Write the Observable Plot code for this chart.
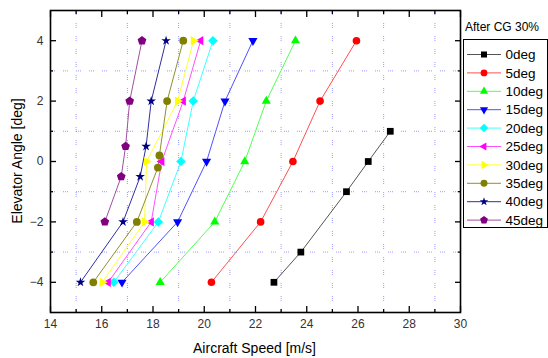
<!DOCTYPE html>
<html>
<head>
<meta charset="utf-8">
<script src="https://cdn.jsdelivr.net/npm/d3@7"></script>
<script src="https://cdn.jsdelivr.net/npm/@observablehq/plot@0.6"></script>
<style>
  html, body { margin: 0; padding: 0; background: #fff; }
  #chart { width: 548px; height: 358px; }
  svg { font-family: "Liberation Sans", Arial, sans-serif; }
</style>
</head>
<body>
<div id="chart"></div>
<script>
// ---- data ----
const seriesNames = ["0deg", "5deg", "10deg", "15deg", "20deg", "25deg", "30deg", "35deg", "40deg", "45deg"];
const speed0 = [22.72, 23.77, 25.55, 26.40, 27.26];
const angle0 = [-4, -3, -1, 0, 1];
const speed5 = [20.28, 22.20, 23.46, 24.52, 25.94];
const angle5 = [-4, -2, 0, 2, 4];
const speed10 = [18.28, 20.41, 21.58, 22.42, 23.56];
const angle10 = [-4, -2, 0, 2, 4];
const speed15 = [16.79, 18.96, 20.09, 20.81, 21.90];
const angle15 = [-4, -2, 0, 2, 4];
const speed20 = [16.47, 18.21, 19.09, 19.57, 20.34];
const angle20 = [-4, -2, 0, 2, 4];
const speed25 = [16.25, 17.93, 18.34, 19.18, 19.86];
const angle25 = [-4, -2, 0, 2, 4];
const speed30 = [16.02, 17.67, 17.75, 18.96, 19.58];
const angle30 = [-4, -2, 0, 2, 4];
const speed35 = [15.67, 17.37, 18.19, 18.25, 18.55, 19.18];
const angle35 = [-4, -2, -0.2, 0.2, 2, 4];
const speed40 = [15.17, 16.83, 17.50, 17.73, 17.93, 18.51];
const angle40 = [-4, -2, -0.5, 0.5, 2, 4];
const speed45 = [16.12, 16.76, 16.93, 17.09, 17.57];
const angle45 = [-2, -0.5, 0.5, 2, 4];
const xTicks = [14, 16, 18, 20, 22, 24, 26, 28, 30];
const yTicks = [-4, -2, 0, 2, 4];
const xMinor = [15, 17, 19, 21, 23, 25, 27, 29];
const yMinor = [-3, -1, 1, 3];
const legendTitle = "After CG 30%";

// ---- styles ----
const colors = ["#000000", "#ff0000", "#00ff00", "#0000ff", "#00ffff", "#ff00ff", "#ffff00", "#808000", "#000080", "#800080"];
const lineColors = ["#555555", "#ff5050", "#50ff50", "#5050ff", "#40ffff", "#ff50ff", "#ffff30", "#90902a", "#3030a0", "#a050a0"];

function triangle(angleDeg) {
  return {
    draw(ctx, size) {
      const side = Math.sqrt(size * 4 / Math.sqrt(3));
      const R = side / Math.sqrt(3);
      for (let k = 0; k < 3; k++) {
        const a = (angleDeg + k * 120) * Math.PI / 180;
        const px = R * Math.cos(a), py = R * Math.sin(a);
        if (k === 0) ctx.moveTo(px, py); else ctx.lineTo(px, py);
      }
      ctx.closePath();
    }
  };
}
const pentagon = {
  draw(ctx, size) {
    const R = Math.sqrt(size / 2.3776);
    for (let k = 0; k < 5; k++) {
      const a = (-90 + k * 72) * Math.PI / 180;
      const px = R * Math.cos(a), py = R * Math.sin(a);
      if (k === 0) ctx.moveTo(px, py); else ctx.lineTo(px, py);
    }
    ctx.closePath();
  }
};
const symbols = [d3.symbolSquare, d3.symbolCircle, triangle(-90), triangle(90), d3.symbolDiamond2,
                 triangle(180), triangle(0), d3.symbolCircle, d3.symbolStar, pentagon];
const radii = [3.8, 3.8, 3.4, 3.4, 4.3, 3.4, 3.4, 3.9, 3.0, 4.0];

const speeds = [speed0, speed5, speed10, speed15, speed20, speed25, speed30, speed35, speed40, speed45];
const angles = [angle0, angle5, angle10, angle15, angle20, angle25, angle30, angle35, angle40, angle45];
const rows = [];
seriesNames.forEach((name, i) => {
  speeds[i].forEach((s, j) => rows.push({series: name, idx: i, speed: s, angle: angles[i][j]}));
});

const gridStyle = {stroke: "#6f6fff", strokeOpacity: 0.7, strokeWidth: 1, strokeDasharray: "1,1,1,1,1,8"};

const marks = [
  Plot.gridX(xMinor, gridStyle),
  Plot.gridY(yMinor, gridStyle),
  Plot.line(rows, {x: "speed", y: "angle", z: "series", stroke: d => lineColors[d.idx], strokeWidth: 1}),
  ...seriesNames.map((name, i) => Plot.dot(rows, {
    filter: d => d.series === name, x: "speed", y: "angle",
    symbol: symbols[i], r: radii[i], fill: colors[i], stroke: "none"
  })),
  Plot.axisX(xTicks, {anchor: "bottom", tickSize: 0, tickPadding: 7, fontSize: 12, color: "#333", label: null}),
  Plot.axisY(yTicks, {anchor: "left", tickSize: 0, tickPadding: 7, fontSize: 12, color: "#333", label: null}),
  Plot.axisX(xTicks, {anchor: "bottom", tickSize: -6, tickFormat: () => "", label: null, strokeWidth: 1.3}),
  Plot.axisX(xTicks, {anchor: "top", tickSize: -6, tickFormat: () => "", label: null, strokeWidth: 1.3}),
  Plot.axisX(xMinor, {anchor: "bottom", tickSize: -3, tickFormat: () => "", label: null, strokeWidth: 1.3}),
  Plot.axisX(xMinor, {anchor: "top", tickSize: -3, tickFormat: () => "", label: null, strokeWidth: 1.3}),
  Plot.axisY(yTicks, {anchor: "left", tickSize: -6, tickFormat: () => "", label: null, strokeWidth: 1.3}),
  Plot.axisY(yTicks, {anchor: "right", tickSize: -6, tickFormat: () => "", label: null, strokeWidth: 1.3}),
  Plot.axisY(yMinor, {anchor: "left", tickSize: -3, tickFormat: () => "", label: null, strokeWidth: 1.3}),
  Plot.axisY(yMinor, {anchor: "right", tickSize: -3, tickFormat: () => "", label: null, strokeWidth: 1.3}),
  Plot.frame({stroke: "#000", strokeWidth: 1.6})
];

const chart = Plot.plot({
  width: 548,
  height: 358,
  marginLeft: 50,
  marginRight: 88,
  marginTop: 10,
  marginBottom: 46,
  x: {domain: [14, 30], label: null},
  y: {domain: [-5, 5], label: null},
  style: {fontFamily: "'Liberation Sans', Arial, sans-serif", background: "#fff"},
  marks
});
document.getElementById("chart").appendChild(chart);

// ---- titles and legend ----
const svg = d3.select(chart);
svg.append("text").attr("x", 254.5).attr("y", 353).attr("text-anchor", "middle")
  .attr("font-size", 14).attr("fill", "#000").text("Aircraft Speed [m/s]");
svg.append("text").attr("transform", "translate(22,161) rotate(-90)").attr("text-anchor", "middle")
  .attr("font-size", 14).attr("fill", "#000").text("Elevator Angle [deg]");

svg.append("text").attr("x", 465).attr("y", 31).attr("text-anchor", "start")
  .attr("font-size", 12).attr("fill", "#000").text(legendTitle);
svg.append("rect").attr("x", 463.5).attr("y", 39.5).attr("width", 84).attr("height", 188)
  .attr("fill", "none").attr("stroke", "#000").attr("stroke-width", 1);
const lg = svg.append("g").attr("text-anchor", "start");
seriesNames.forEach((name, i) => {
  const y = 54.5 + i * 18.4;
  lg.append("line").attr("x1", 467).attr("x2", 501).attr("y1", y).attr("y2", y)
    .attr("stroke", lineColors[i]).attr("stroke-width", 1);
  lg.append("path").attr("transform", `translate(484,${y})`)
    .attr("d", d3.symbol(symbols[i], radii[i] * radii[i] * Math.PI * 0.8)())
    .attr("fill", colors[i]);
  lg.append("text").attr("x", 505.5).attr("y", y).attr("dy", "0.35em")
    .attr("font-size", 13.5).attr("fill", "#000").text(name);
});
</script>
</body>
</html>
